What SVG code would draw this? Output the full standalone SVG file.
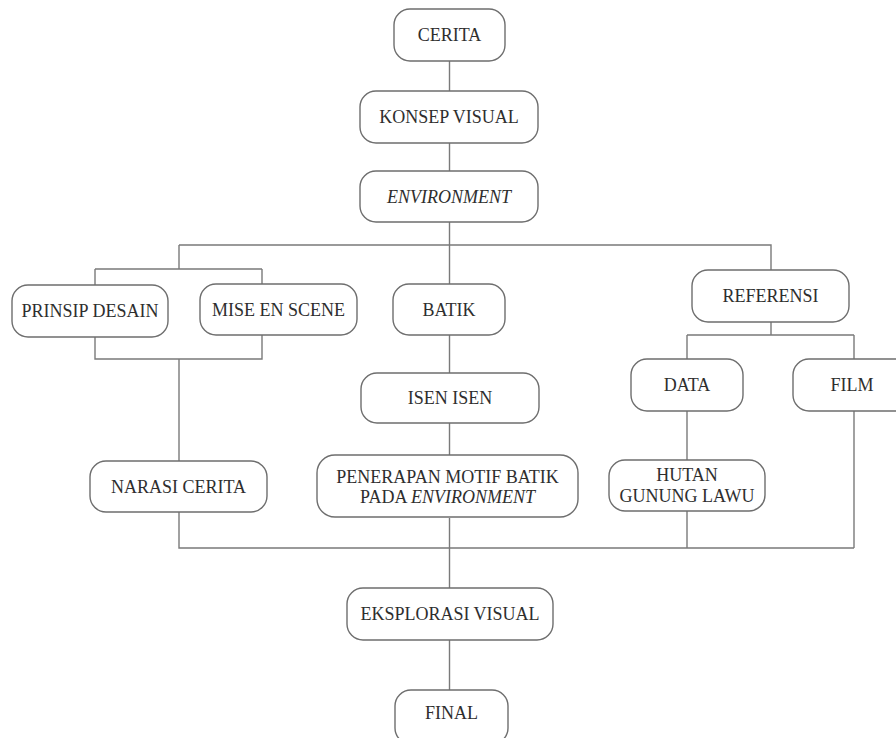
<svg xmlns="http://www.w3.org/2000/svg" width="896" height="738" viewBox="0 0 896 738">
<style>
.box{fill:#fff;stroke:#6e6e6e;stroke-width:1.4}
.t{font-family:"Liberation Serif","Times New Roman",serif;font-size:18px;fill:#2e2e2e;text-anchor:middle}
.i{font-style:italic}
.c{fill:none;stroke:#7a7a7a;stroke-width:1.4}
</style>
<rect width="896" height="738" fill="#fff"/>
<g id="connectors" class="c">
<path d="M449.5 61V91M449.5 143V171M449.5 222V455"/>
<path d="M179 245H771V270"/>
<path d="M179 245V269M95 269H262M95 269V285M262 269V284"/>
<path d="M95 337V359H262V335M179 359V461"/>
<path d="M771 322V335M687 335H854M687 335V359M854 335V359"/>
<path d="M687 411V460"/>
<path d="M854 411V548"/>
<path d="M179 512V548H854M687 511V548"/>
<path d="M449.5 518V588M449.5 640V690"/>
</g>
<g id="cerita"><rect class="box" x="394" y="9" width="111" height="52" rx="16"/><text class="t" x="449.5" y="41">CERITA</text></g>
<g id="konsep-visual"><rect class="box" x="360" y="91" width="178" height="52" rx="16"/><text class="t" x="449" y="123">KONSEP VISUAL</text></g>
<g id="environment"><rect class="box" x="360" y="171" width="178" height="51" rx="16"/><text class="t i" x="449" y="203">ENVIRONMENT</text></g>
<g id="prinsip-desain"><rect class="box" x="12" y="285" width="156" height="52" rx="16"/><text class="t" x="90" y="317">PRINSIP DESAIN</text></g>
<g id="mise-en-scene"><rect class="box" x="200" y="284" width="157" height="51" rx="16"/><text class="t" x="278.5" y="316">MISE EN SCENE</text></g>
<g id="batik"><rect class="box" x="393" y="284" width="112" height="51" rx="16"/><text class="t" x="449" y="316">BATIK</text></g>
<g id="referensi"><rect class="box" x="692" y="270" width="157" height="52" rx="16"/><text class="t" x="770.5" y="302">REFERENSI</text></g>
<g id="isen-isen"><rect class="box" x="361" y="373" width="178" height="50" rx="16"/><text class="t" x="450" y="404">ISEN ISEN</text></g>
<g id="data"><rect class="box" x="631" y="359" width="112" height="52" rx="16"/><text class="t" x="687" y="391">DATA</text></g>
<g id="film"><rect class="box" x="793" y="359" width="122" height="52" rx="16"/><text class="t" x="852" y="391">FILM</text></g>
<g id="narasi-cerita"><rect class="box" x="90" y="461" width="177" height="51" rx="16"/><text class="t" x="178.5" y="493">NARASI CERITA</text></g>
<g id="penerapan"><rect class="box" x="317" y="455" width="261" height="62" rx="18"/><text class="t" x="447.5" y="483">PENERAPAN MOTIF BATIK</text><text class="t" x="447.5" y="503">PADA <tspan class="i">ENVIRONMENT</tspan></text></g>
<g id="hutan"><rect class="box" x="609" y="460" width="156" height="51" rx="16"/><text class="t" x="687" y="481">HUTAN</text><text class="t" x="687" y="502">GUNUNG LAWU</text></g>
<g id="eksplorasi-visual"><rect class="box" x="347" y="588" width="206" height="52" rx="16"/><text class="t" x="450" y="620">EKSPLORASI VISUAL</text></g>
<g id="final"><rect class="box" x="395" y="690" width="113" height="54" rx="16"/><text class="t" x="451.5" y="719">FINAL</text></g>
</svg>
